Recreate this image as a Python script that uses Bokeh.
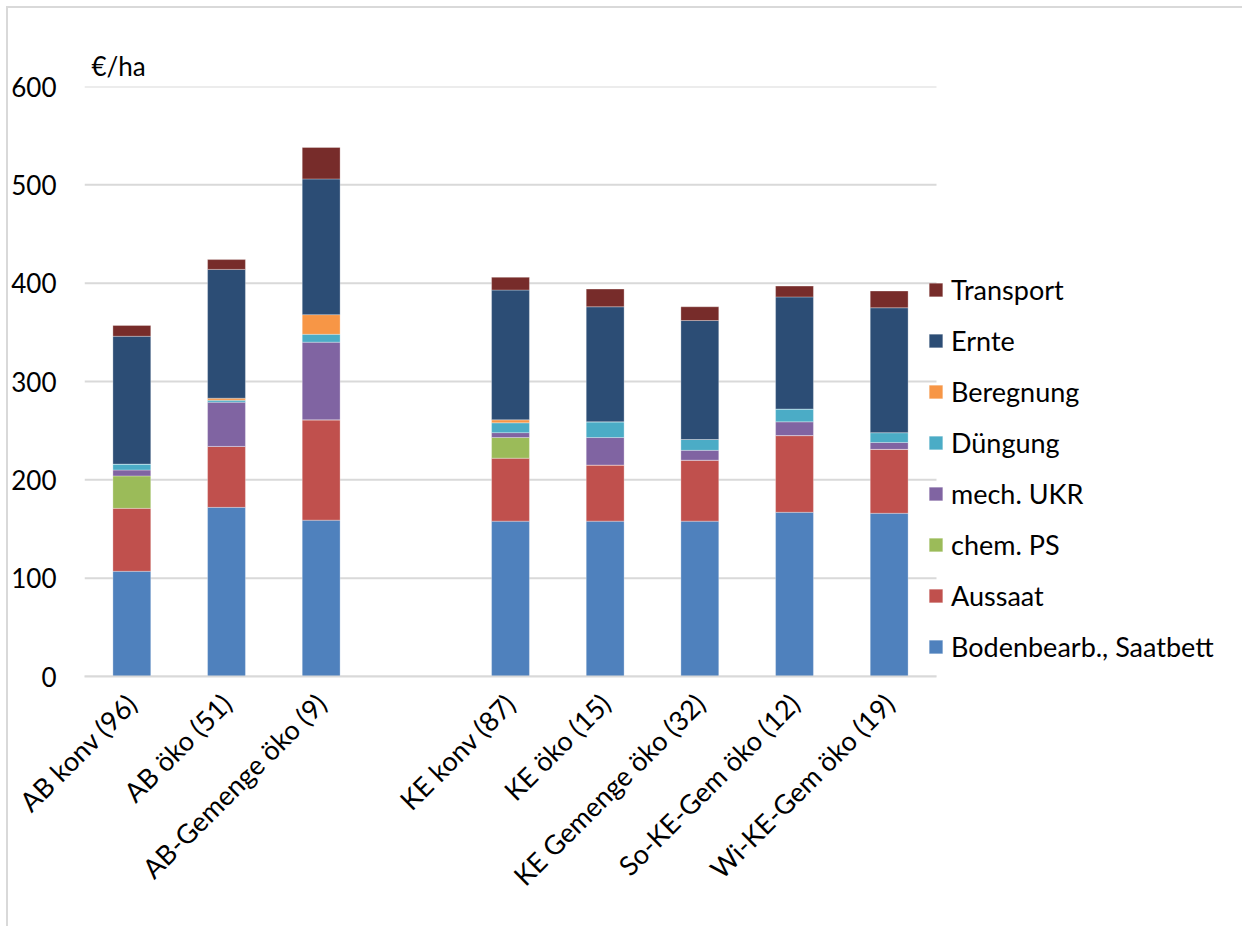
import math
from bokeh.plotting import figure
from bokeh.models import Range1d, Legend, LegendItem, FixedTicker
from bokeh.embed import file_html
from bokeh.resources import INLINE

categories = ["AB konv (96)", "AB öko (51)", "AB-Gemenge öko (9)",
              "KE konv (87)", "KE öko (15)", "KE Gemenge öko (32)",
              "So-KE-Gem öko (12)", "Wi-KE-Gem öko (19)"]

series = ["Bodenbearb., Saatbett", "Aussaat", "chem. PS", "mech. UKR",
          "Düngung", "Beregnung", "Ernte", "Transport"]

bodenbearb = [107, 172, 159, 158, 158, 158, 167, 166]
aussaat    = [64, 62, 102, 64, 57, 62, 78, 65]
chem_ps    = [33, 0, 0, 21, 0, 0, 0, 0]
mech_ukr   = [6, 45, 79, 5, 28, 10, 14, 7]
duengung   = [6, 2, 8, 10, 16, 11, 13, 10]
beregnung  = [0, 2, 20, 3, 0, 0, 0, 0]
ernte      = [130, 131, 138, 132, 117, 121, 114, 127]
transport  = [11, 10, 32, 13, 18, 14, 11, 17]

colors = ["#4F81BD", "#C0504D", "#9BBB59", "#8064A2",
          "#4BACC6", "#F79646", "#2C4D75", "#772C2A"]

y_ticks = [0, 100, 200, 300, 400, 500, 600]

# category slots: first group of 3, one empty slot, then group of 5
n_slots = len(categories) + 1
xpos = [i + 0.5 + (1 if i >= 3 else 0) for i in range(len(categories))]

data = {"x": xpos}
for name, vals in zip(series, [bodenbearb, aussaat, chem_ps, mech_ukr,
                               duengung, beregnung, ernte, transport]):
    data[name] = vals

FONT = "Lato"
FS = "27px"

W, H = 1236, 920
LEFT, TOP, BOTTOM = 76, 78, 252
FRAME_W = W - LEFT
CAT_PX = 852 / n_slots
x_end = FRAME_W / CAT_PX

p = figure(x_range=Range1d(0, x_end), y_range=Range1d(0, 600),
           width=W, height=H, output_backend="svg", toolbar_location=None,
           min_border_left=LEFT, min_border_top=TOP, min_border_bottom=BOTTOM,
           min_border_right=0, title="€/ha")
p.styles = {"margin-left": "6px", "margin-top": "6px",
            "border-left": "2px solid #d9d9d9", "border-top": "2px solid #d9d9d9"}

p.xgrid.grid_line_color = None
p.ygrid.grid_line_color = None
p.segment(x0=[0] * len(y_ticks), y0=y_ticks, x1=[n_slots] * len(y_ticks), y1=y_ticks,
          line_color="#d9d9d9", line_width=2)

renderers = p.vbar_stack(series, x="x", width=0.4, color=colors, source=data,
                         line_color="white", line_width=0.6, line_alpha=0.5)

p.outline_line_color = None
p.yaxis.ticker = FixedTicker(ticks=y_ticks)
p.yaxis.axis_line_color = None
p.yaxis.major_tick_line_color = None
p.yaxis.minor_tick_line_color = None
p.yaxis.major_label_standoff = 22
p.yaxis.major_label_text_font = FONT
p.yaxis.major_label_text_font_size = "26px"
p.yaxis.major_label_text_color = "#000000"

p.xaxis.ticker = FixedTicker(ticks=xpos)
p.xaxis.major_label_overrides = {x: c for x, c in zip(xpos, categories)}
p.xaxis.bounds = (0, n_slots)
p.xaxis.axis_line_color = "#d9d9d9"
p.xaxis.axis_line_width = 2
p.xaxis.major_tick_line_color = None
p.xaxis.minor_tick_line_color = None
p.xaxis.major_label_orientation = math.pi / 4
p.xaxis.major_label_standoff = 16
p.xaxis.major_label_text_font = FONT
p.xaxis.major_label_text_font_size = FS
p.xaxis.major_label_text_color = "#000000"

p.title.text_font = FONT
p.title.text_font_size = "26px"
p.title.text_font_style = "normal"
p.title.text_color = "#000000"
p.title.align = "left"
p.title.offset = 7
p.title.standoff = 10

items = [LegendItem(label=name, renderers=[r]) for name, r in zip(series, renderers)]
items.reverse()
legend = Legend(items=items, location=(843, 13), padding=0, margin=0,
                spacing=18, label_height=29, glyph_height=17, glyph_width=17,
                label_standoff=7, label_text_font=FONT, label_text_font_size=FS,
                label_text_color="#000000", border_line_color=None,
                background_fill_alpha=0)
p.add_layout(legend, "center")

open("out.html", "w").write(file_html(p, INLINE))
